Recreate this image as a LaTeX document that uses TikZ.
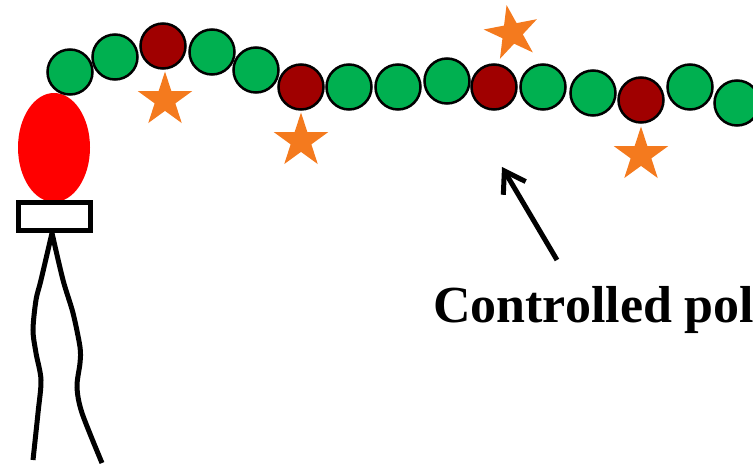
\documentclass[tikz,border=0pt]{standalone}
\usepackage{fontspec}
\setmainfont{Liberation Serif}
\usepackage{tikz}
\usetikzlibrary{arrows.meta,shapes.geometric}
\definecolor{beadgreen}{HTML}{00B050}
\definecolor{beadred}{HTML}{A00000}
\definecolor{tagorange}{HTML}{F47A1E}

\tikzset{
  bead/.style={circle,draw=black,line width=2.5pt,minimum size=45pt,inner sep=0pt},
  tag/.style={star,star points=5,star point ratio=2.618,fill=tagorange,
    minimum size=57pt,inner sep=0pt},
}

\begin{document}
\begin{tikzpicture}[x=1pt,y=-1pt,>={Straight Barb[length=20pt,width=26pt]}]
    \useasboundingbox (0,0) rectangle (753,468);
    \clip (0,0) rectangle (753,468);

    % Head and the support it stands on.
    \node[ellipse,fill=red,minimum width=72pt,minimum height=109pt,inner sep=0pt]
      (head) at (54,147.5) {};
    \node[draw=black,fill=white,line width=5pt,minimum width=72pt,minimum height=28pt,
      inner sep=0pt] (base) at (54.5,216.5) {};

    % Two wobbly legs.
    \coordinate (hip) at (52,233);
    \draw[line width=5pt] plot[smooth] coordinates
      {(hip) (41,280) (36,300) (33,330) (36,353) (41,380) (38,413) (33,460)};
    \draw[line width=5pt] plot[smooth] coordinates
      {(hip) (63,280) (73,313) (80,347) (80,363) (77,387) (82,413) (102,463)};

    % Chain of beads; the dark red ones carry a tag.
    \foreach \x/\y/\c [count=\i] in {70/72/beadgreen,115/57/beadgreen,163/46/beadred,
        212/52/beadgreen,256/70/beadgreen,301/87/beadred,349/87/beadgreen,
        398/87/beadgreen,447/81/beadgreen,494/87/beadred,543/87/beadgreen,
        593/93/beadgreen,641/100/beadred,690/87/beadgreen,737/103/beadgreen} {
      \node[bead,fill=\c] (bead\i) at (\x,\y) {};
    }

    % Tags next to the dark red beads.
    \node[tag] (tag1) at (165,100) {};
    \node[tag] (tag2) at (301,141) {};
    \node[tag,rotate=11] (tag3) at (512,33) {};
    \node[tag] (tag4) at (641,155) {};

    % Label with its pointer.
    \node[anchor=base west,inner sep=0pt,font=\bfseries\fontsize{52}{62}\selectfont]
      (label) at (433,322) {Controlled pol};
    \coordinate (arrowtail) at (557,260);
    \coordinate (arrowtip) at (502,167);
    \draw[->,line width=5pt] (arrowtail) -- (arrowtip);
\end{tikzpicture}
\end{document}
